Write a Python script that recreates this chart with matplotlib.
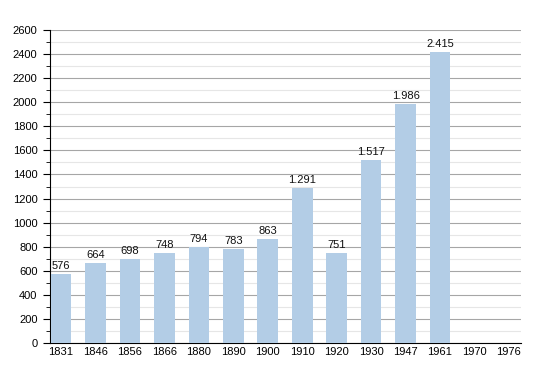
import matplotlib
matplotlib.use("Agg")
import matplotlib.pyplot as plt
from matplotlib.ticker import MultipleLocator

years = ["1831", "1846", "1856", "1866", "1880", "1890", "1900", "1910", "1920", "1930", "1947", "1961", "1970", "1976"]
values = [576, 664, 698, 748, 794, 783, 863, 1291, 751, 1517, 1986, 2415, None, None]

plt.rcParams['font.family'] = ['Liberation Sans', 'DejaVu Sans']

fig = plt.figure(figsize=(5.5, 3.73), dpi=100)
ax = fig.add_axes([50/550, 30/373, 471/550, 313/373])

xs = list(range(len(years)))
bx = [x for x, v in zip(xs, values) if v is not None]
bv = [v for v in values if v is not None]
ax.bar(bx, bv, width=0.6, color="#b3cde6", zorder=3)

for x, v in zip(bx, bv):
    s = f"{v:,}".replace(",", ".")
    ax.text(x, v + 25, s, ha="center", va="bottom", fontsize=8, color="#111111", zorder=4)

ax.set_xlim(-0.32, 13.35)
ax.set_ylim(0, 2600)
ax.set_xticks(xs)
ax.set_xticklabels(years)
ax.yaxis.set_major_locator(MultipleLocator(200))
ax.yaxis.set_minor_locator(MultipleLocator(100))
ax.grid(axis="y", which="major", color="#a6a6a6", linewidth=0.8, zorder=0)
ax.grid(axis="y", which="minor", color="#e6e6e6", linewidth=0.8, zorder=0)
ax.set_axisbelow(True)

for s in ["top", "right"]:
    ax.spines[s].set_visible(False)
ax.spines["left"].set_color("black")
ax.spines["bottom"].set_color("black")
ax.tick_params(axis="y", which="major", length=5, labelsize=8, pad=4)
ax.tick_params(axis="y", which="minor", length=3)
ax.tick_params(axis="x", length=0, labelsize=8, pad=3)

fig.savefig("out.png", dpi=100)
